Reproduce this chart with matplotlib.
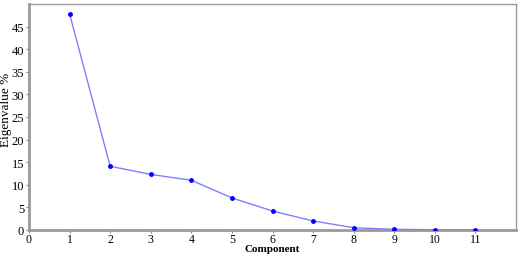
import matplotlib
matplotlib.use("Agg")
import matplotlib.pyplot as plt

components = [1, 2, 3, 4, 5, 6, 7, 8, 9, 10, 11]
eigenvalue_pct = [47.8, 14.1, 12.3, 11.0, 7.1, 4.2, 2.0, 0.5, 0.15, 0.05, 0.02]
xticks = list(range(0, 12))
yticks = [0, 5, 10, 15, 20, 25, 30, 35, 40, 45]

plt.rcParams['font.family'] = ['Liberation Serif', 'DejaVu Serif']
W, H = 523, 255
fig = plt.figure(figsize=(W/100, H/100), dpi=100)
ax = fig.add_axes([29/W, 1-231/H, (516-29)/W, (231-5)/H])
ax.plot(components, eigenvalue_pct, color='#7f7fff', lw=1.0, marker='o', ms=2.5,
        mfc='#0000ff', mec='#0000ff', zorder=3)
ax.set_xlim(0, 12)
ax.set_ylim(0, 50)
ax.set_xticks(xticks)
ax.set_yticks(yticks)
ax.tick_params(labelsize=9, length=2.5, width=0.8, color='#888888', pad=1)
ax.tick_params(axis='x', pad=0, labelsize=8.5)
for s in ax.spines.values():
    s.set_color('#999999')
    s.set_linewidth(1.0)
ax.spines['bottom'].set_linewidth(2.0)
ax.spines['left'].set_linewidth(2.0)
fig.text(272/W, 0.5/H, 'Component', fontsize=8, fontweight='bold', ha='center', va='bottom')
fig.text(6/W, 1-110/H, 'Eigenvalue %', fontsize=9.5, rotation=90, ha='center', va='center')
fig.savefig('out.png', dpi=100)
